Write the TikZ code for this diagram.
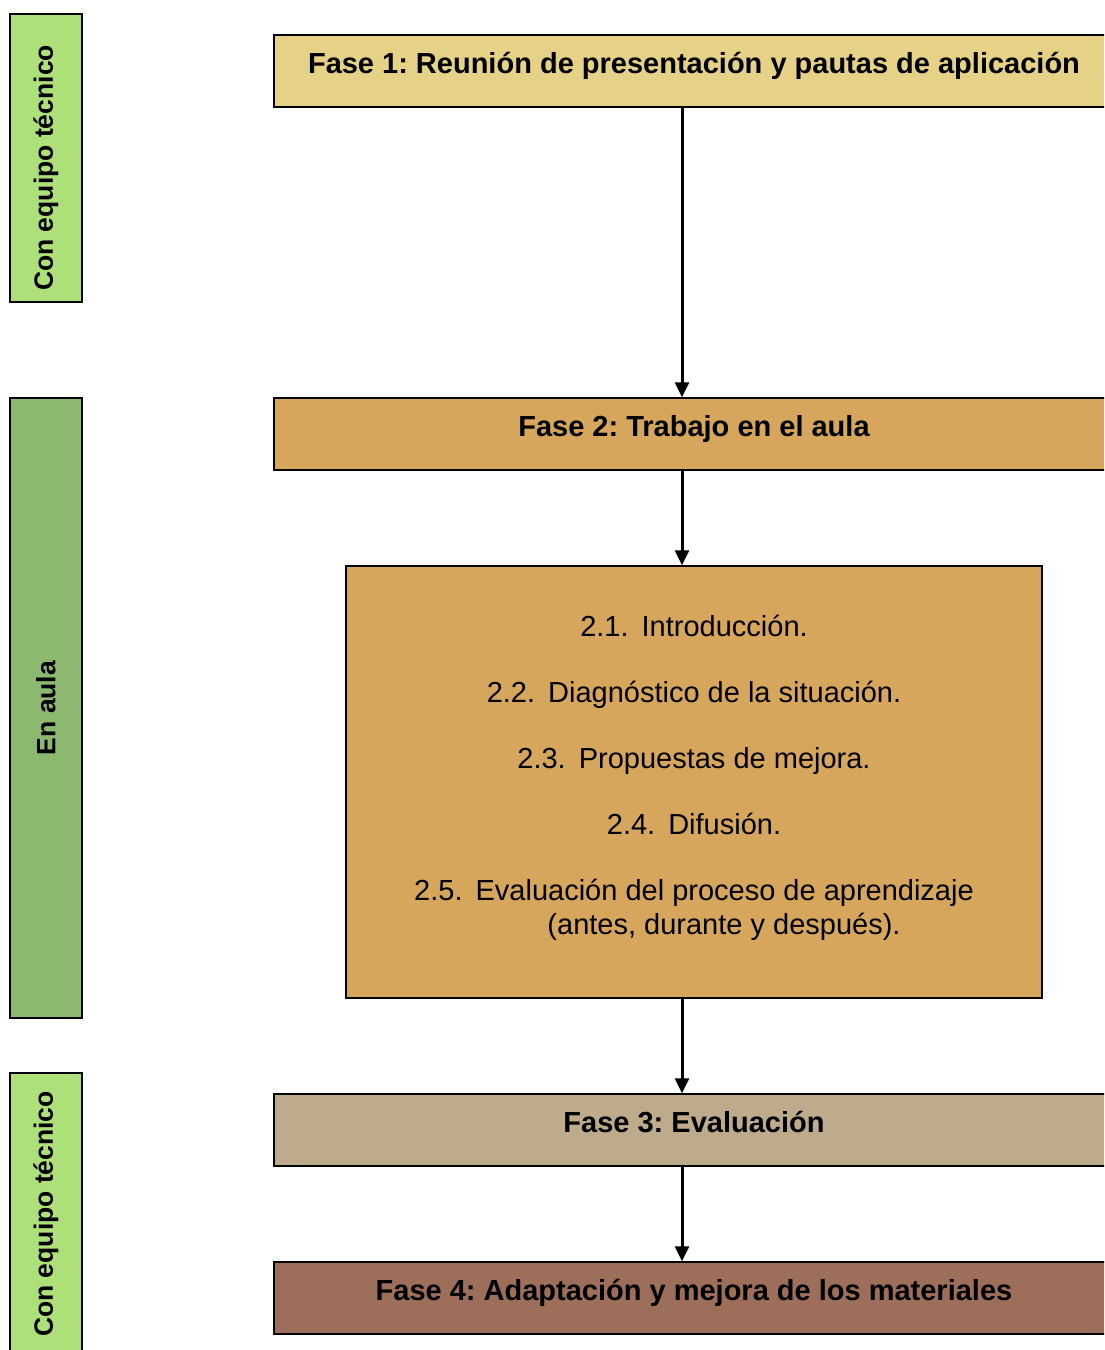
\documentclass[tikz,border=0pt]{standalone}
\usepackage{fontspec}
\setmainfont{Liberation Sans}
\usetikzlibrary{arrows.meta,positioning}
\frenchspacing

\definecolor{verdeclaro}{RGB}{174,224,122}
\definecolor{verdeaula}{RGB}{141,184,112}
\definecolor{faseuno}{RGB}{229,210,134}
\definecolor{fasedos}{RGB}{213,166,92}
\definecolor{fasetres}{RGB}{190,171,140}
\definecolor{fasecuatro}{RGB}{157,111,91}

\tikzset{
    fasebox/.style={draw, line width=1.5pt, minimum width=840pt, minimum height=72pt,
        inner sep=0pt, text height=22pt, text depth=18pt,
        font=\fontsize{29}{34}\selectfont\bfseries},
    ladobox/.style={draw, line width=1.5pt, minimum width=72pt, inner sep=0pt},
    ladotext/.style={rotate=90, font=\fontsize{26.5}{30}\selectfont\bfseries},
    arr/.style={line width=3pt, -{Triangle[length=15pt,width=14pt]}}
}
\newcommand{\sep}{\hspace{0.45em}}

\begin{document}
\begin{tikzpicture}[x=1pt, y=-1pt]
    \useasboundingbox (0,0) rectangle (1104,1350);
    \clip (0,0) rectangle (1104,1350);
    \fill[white] (0,0) rectangle (1104,1350);

    % columna izquierda
    \node[ladobox, fill=verdeclaro, minimum height=288pt] (lado1) at (46,158) {};
    \node[ladotext] (lado1t) at (46,168) {Con equipo técnico};
    \node[ladobox, fill=verdeaula, minimum height=620pt] (lado2) at (46,708) {};
    \node[ladotext] (lado2t) at (46,708) {En aula};
    \node[ladobox, fill=verdeclaro, minimum height=300pt] (lado3) at (46,1223) {};
    \node[ladotext] (lado3t) at (46,1214) {Con equipo técnico};

    % fases
    \node[fasebox, fill=faseuno] (f1) at (694,71) {Fase 1: Reunión de presentación y pautas de aplicación};
    \node[fasebox, fill=fasedos] (f2) at (694,434) {Fase 2: Trabajo en el aula};
    \node[draw, line width=1.5pt, fill=fasedos, minimum width=696pt, minimum height=432pt] (pasos) at (694,782) {};
    \node[align=center, font=\fontsize{29}{34}\selectfont] (pasostxt) at (694,778)
        {2.1.\sep Introducción.\\[32pt]
         2.2.\sep Diagnóstico de la situación.\\[32pt]
         2.3.\sep Propuestas de mejora.\\[32pt]
         2.4.\sep Difusión.\\[32pt]
         2.5.\sep Evaluación del proceso de aprendizaje\\
         \hspace*{60pt}(antes, durante y después).};
    \node[fasebox, fill=fasetres] (f3) at (694,1130) {Fase 3: Evaluación};
    \node[fasebox, fill=fasecuatro] (f4) at (694,1298) {Fase 4: Adaptación y mejora de los materiales};

    % flechas
    \coordinate (eje) at (682,0);
    \draw[arr] (f1.south -| eje) -- (f2.north -| eje);
    \draw[arr] (f2.south -| eje) -- (pasos.north -| eje);
    \draw[arr] (pasos.south -| eje) -- (f3.north -| eje);
    \draw[arr] (f3.south -| eje) -- (f4.north -| eje);
\end{tikzpicture}
\end{document}
